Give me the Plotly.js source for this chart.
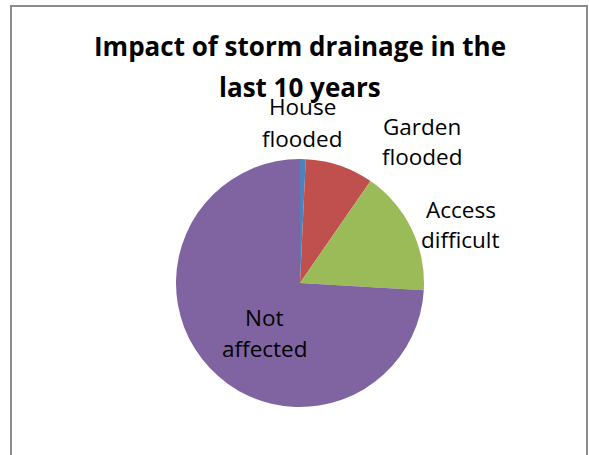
<!DOCTYPE html>
<html>
<head>
<meta charset="utf-8">
<script src="https://cdn.plot.ly/plotly-3.0.1.min.js"></script>
<style>
  html, body { margin: 0; padding: 0; background: #ffffff; }
  #chart { width: 589px; height: 455px; }
</style>
</head>
<body>
<div id="chart"></div>
<script>
// Households by storm-drainage impact over the last 10 years
const categories = ["House flooded", "Garden flooded", "Access difficult", "Not affected"];
const labelLines = [["House", "flooded"], ["Garden", "flooded"], ["Access", "difficult"], ["Not", "affected"]];
const counts = [1, 12, 22, 100];
const sliceColors = ["#4F81BD", "#C0504D", "#9BBB59", "#8064A2"];
const titleLines = ["Impact of storm drainage in the", "last 10 years"];

const W = 589, H = 455;
const px = x => x / W;
const py = y => 1 - y / H;

// label placement: centre x and the centre y of each of its two lines, in pixels
const labelX = [302, 422, 461, 264];
const labelY = [[106.5, 138.5], [126.5, 156.5], [209.5, 239.5], [317, 348.5]];

const annotations = [];
labelLines.forEach((lines, i) => {
  lines.forEach((t, j) => {
    annotations.push({
      text: t,
      xref: "paper", yref: "paper",
      x: px(labelX[i]), y: py(labelY[i][j]),
      xanchor: "center", yanchor: "middle",
      showarrow: false,
      font: { family: "'Open Sans', sans-serif", size: 22.5, color: "#000000" }
    });
  });
});

const titleY = [46, 87];
titleLines.forEach((t, i) => {
  annotations.push({
    text: "<b>" + t + "</b>",
    xref: "paper", yref: "paper",
    x: px(300), y: py(titleY[i]),
    xanchor: "center", yanchor: "middle",
    showarrow: false,
    font: { family: "'Open Sans', sans-serif", size: 26, color: "#000000" }
  });
});

const trace = {
  type: "pie",
  labels: categories,
  values: counts,
  sort: false,
  direction: "clockwise",
  rotation: 0,
  textinfo: "none",
  hoverinfo: "label+value+percent",
  marker: { colors: sliceColors, line: { width: 0 } },
  domain: { x: [px(176), px(424)], y: [py(407), py(159)] }
};

const layout = {
  width: W, height: H,
  margin: { l: 0, r: 0, t: 0, b: 0 },
  paper_bgcolor: "#ffffff",
  showlegend: false,
  annotations: annotations,
  shapes: [{
    type: "rect", xref: "paper", yref: "paper",
    x0: px(11), x1: px(587), y0: -0.1, y1: py(6),
    line: { color: "#8c8c8c", width: 2 }
  }]
};

Plotly.newPlot("chart", [trace], layout, { staticPlot: true, displayModeBar: false });
</script>
</body>
</html>
